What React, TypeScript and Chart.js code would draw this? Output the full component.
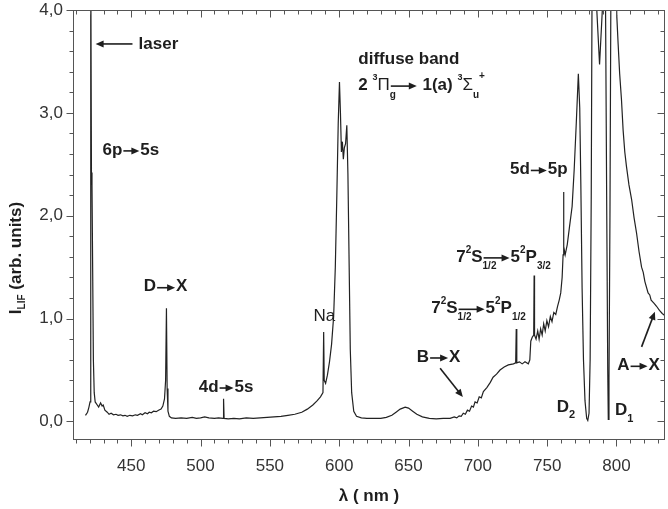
import React, { useEffect, useRef } from "react";
import { Chart, registerables } from "chart.js";

Chart.register(...registerables);

// ---------- data ----------
const wavelengths = [
  417.0, 418.5, 419.5, 420.3, 420.8, 421.3, 421.7, 422.2, 422.7, 423.3, 424.0, 425.5, 426.5, 427.9, 429.0, 429.8,
  431.0, 432.7, 434.0, 435.5, 437.2, 439.0, 440.5, 442.3, 444.0, 445.5, 447.1, 449.0, 451.0, 453.0, 454.5, 456.7,
  458.0, 460.0, 461.7, 463.0, 464.5, 466.1, 468.0, 469.7, 471.5, 472.8, 474.0, 474.8, 475.4, 475.9, 476.5, 477.5,
  479.0, 482.0, 486.0, 490.0, 494.0, 497.0, 500.0, 503.0, 506.0, 510.0, 513.0, 516.2, 516.6, 517.0, 520.0, 524.0,
  528.0, 533.0, 538.0, 543.0, 548.0, 553.0, 558.0, 563.0, 568.0, 573.0, 577.0, 581.0, 584.0, 586.5, 588.3, 588.8,
  589.2, 590.2, 591.5, 593.0, 594.5, 596.0, 597.2, 598.3, 599.3, 600.2, 600.9, 601.6, 602.3, 603.0, 603.7, 604.6,
  605.5, 606.3, 607.2, 608.0, 609.0, 610.5, 612.5, 616.0, 620.0, 625.0, 630.0, 634.0, 638.0, 641.0, 644.0, 647.6,
  650.0, 653.0, 656.0, 660.0, 665.0, 670.0, 675.0, 680.0, 683.0, 684.8, 686.5, 688.0, 689.5, 691.0, 692.5, 694.0,
  695.5, 696.8, 698.0, 699.5, 701.0, 702.5, 704.0, 706.5, 709.0, 711.0, 713.5, 716.0, 719.0, 722.0, 725.7, 727.3,
  727.7, 728.1, 730.0, 732.0, 734.0, 736.4, 737.5, 738.2, 739.3, 740.3, 740.6, 740.9, 742.0, 743.2, 744.2, 745.3,
  746.4, 747.5, 748.6, 749.8, 751.0, 752.3, 753.5, 754.8, 756.2, 757.5, 758.7, 759.8, 760.8, 761.5, 761.8, 762.1,
  763.0, 764.5, 766.0, 768.0, 769.5, 771.0, 772.5, 773.5, 774.3, 775.2, 776.2, 777.3, 778.5, 779.3, 780.2, 781.0,
  781.8, 782.5, 784.5, 785.8, 787.8, 789.8, 790.8, 792.0, 793.0, 793.7, 794.1, 794.6, 795.3, 796.0, 797.0, 799.4,
  800.2, 801.2, 802.3, 803.6, 804.8, 806.0, 807.2, 809.0, 810.9, 812.7, 814.5, 816.3, 818.1, 819.3, 820.5, 822.8,
  824.0, 825.0, 827.0, 828.9, 831.0, 833.0, 834.8,
];
const intensities = [
  0.06, 0.09, 0.14, 0.19, 4.6, 2.42, 2.3, 1.45, 0.6, 0.28, 0.19, 0.16, 0.14, 0.18, 0.15, 0.16,
  0.11, 0.09, 0.07, 0.08, 0.065, 0.07, 0.06, 0.065, 0.055, 0.06, 0.05, 0.06, 0.055, 0.065, 0.06, 0.075,
  0.065, 0.085, 0.075, 0.09, 0.085, 0.1, 0.095, 0.11, 0.12, 0.15, 0.22, 0.4, 1.1, 0.32, 0.1, 0.05,
  0.035, 0.03, 0.035, 0.03, 0.04, 0.03, 0.035, 0.045, 0.035, 0.03, 0.035, 0.03, 0.22, 0.03, 0.025, 0.03,
  0.025, 0.035, 0.03, 0.035, 0.04, 0.045, 0.05, 0.06, 0.07, 0.09, 0.12, 0.16, 0.2, 0.24, 0.28, 0.87,
  0.4, 0.37, 0.45, 0.58, 0.75, 1.02, 1.5, 2.2, 2.9, 3.3, 3.0, 2.62, 2.72, 2.55, 2.66, 2.7,
  2.88, 2.4, 1.5, 0.7, 0.28, 0.1, 0.05, 0.035, 0.03, 0.03, 0.03, 0.04, 0.06, 0.09, 0.12, 0.14,
  0.13, 0.1, 0.07, 0.045, 0.03, 0.025, 0.03, 0.03, 0.045, 0.035, 0.055, 0.05, 0.08, 0.07, 0.11, 0.1,
  0.15, 0.14, 0.19, 0.18, 0.24, 0.23, 0.29, 0.33, 0.38, 0.43, 0.46, 0.5, 0.53, 0.55, 0.56, 0.57,
  0.9, 0.57, 0.58, 0.56, 0.58, 0.56, 0.6, 0.78, 0.82, 0.84, 1.42, 0.84, 0.8, 0.88, 0.8, 0.9,
  0.84, 0.95, 0.88, 0.98, 0.92, 1.02, 0.97, 1.06, 1.04, 1.12, 1.18, 1.25, 1.4, 1.62, 2.23, 1.7,
  1.62, 1.72, 1.88, 2.09, 2.45, 2.9, 3.38, 3.05, 2.3, 1.3, 0.6, 0.2, 0.03, 0.01, 0.08, 0.6,
  2.2, 4.6, 4.6, 4.0, 3.47, 4.0, 4.6, 4.3, 2.0, 0.5, 0.02, 0.4, 2.0, 4.3, 4.6, 4.6,
  3.95, 3.67, 3.38, 3.13, 2.83, 2.62, 2.48, 2.3, 2.16, 1.98, 1.83, 1.65, 1.5, 1.45, 1.36, 1.25,
  1.23, 1.18, 1.15, 1.12, 1.08, 1.05, 1.03,
];

const xTickValues = [450, 500, 550, 600, 650, 700, 750, 800];
const yTickValues = [0, 1, 2, 3, 4];
const yTickLabels = ["0,0", "1,0", "2,0", "3,0", "4,0"];
const xTitle = "λ ( nm )";

// annotation texts, anchored in data coordinates (left edge, vertical middle)
type Seg = { t?: string; arrow?: number; size?: number; bold?: boolean; dy?: number; adv?: boolean };
const SUP = (t: string): Seg => ({ t, size: 10, dy: -7 });
const SUB = (t: string, adv = true): Seg => ({ t, size: 10, dy: 9, adv });
const labels: { x: number; y: number; segs: Seg[] }[] = [
  { x: 455.3, y: 3.67, segs: [{ t: "laser" }] },
  { x: 429.3, y: 2.64, segs: [{ t: "6p" }, { arrow: 18 }, { t: "5s" }] },
  { x: 459.1, y: 1.31, segs: [{ t: "D" }, { arrow: 20 }, { t: "X" }] },
  { x: 498.7, y: 0.335, segs: [{ t: "4d" }, { arrow: 16 }, { t: "5s" }] },
  { x: 581.5, y: 1.02, segs: [{ t: "Na", bold: false }] },
  { x: 613.8, y: 3.52, segs: [{ t: "diffuse band" }] },
  {
    x: 613.8,
    y: 3.27,
    segs: [
      { t: "2 " }, { t: "3", size: 9, dy: -8 }, { t: "Π", bold: false }, { t: "g", size: 10, dy: 10, adv: false },
      { arrow: 28 }, { t: " 1(a) " }, { t: "3", size: 9, dy: -8 }, { t: "Σ", bold: false },
      { t: "u", size: 10, dy: 10 }, { t: "+", size: 10, dy: -9 },
    ],
  },
  { x: 723.2, y: 2.45, segs: [{ t: "5d" }, { arrow: 18 }, { t: "5p" }] },
  {
    x: 684.4,
    y: 1.6,
    segs: [{ t: "7" }, SUP("2"), { t: "S" }, SUB("1/2", false), { arrow: 28 }, { t: "5" }, SUP("2"), { t: "P" }, SUB("3/2")],
  },
  {
    x: 666.4,
    y: 1.1,
    segs: [{ t: "7" }, SUP("2"), { t: "S" }, SUB("1/2", false), { arrow: 28 }, { t: "5" }, SUP("2"), { t: "P" }, SUB("1/2")],
  },
  { x: 656.0, y: 0.627, segs: [{ t: "B" }, { arrow: 20 }, { t: "X" }] },
  { x: 756.9, y: 0.14, segs: [{ t: "D" }, { t: "2", size: 11, dy: 8 }] },
  { x: 798.9, y: 0.107, segs: [{ t: "D" }, { t: "1", size: 11, dy: 8 }] },
  { x: 800.6, y: 0.546, segs: [{ t: "A" }, { arrow: 19 }, { t: "X" }] },
];
// free arrows: [x0, y0, x1, y1] in data coordinates, head at the end
const freeArrows: [number, number, number, number][] = [
  [450.9, 3.67, 424.3, 3.67],
  [672.8, 0.517, 689.2, 0.237],
  [818.1, 0.725, 827.7, 1.066],
];

const FONT = '"Liberation Sans", Arial, Helvetica, sans-serif';
const INK = "#1e1e1e";

function arrowLine(ctx: CanvasRenderingContext2D, x0: number, y0: number, x1: number, y1: number) {
  const head = 8;
  const half = 3.5;
  const dx = x1 - x0, dy = y1 - y0;
  const L = Math.hypot(dx, dy);
  const ux = dx / L, uy = dy / L;
  const bx = x1 - ux * head, by = y1 - uy * head;
  ctx.beginPath();
  ctx.moveTo(x0, y0);
  ctx.lineTo(bx + ux * 1, by + uy * 1);
  ctx.lineWidth = 1.6;
  ctx.strokeStyle = INK;
  ctx.stroke();
  ctx.beginPath();
  ctx.moveTo(x1, y1);
  ctx.lineTo(bx - uy * half, by + ux * half);
  ctx.lineTo(bx + uy * half, by - ux * half);
  ctx.closePath();
  ctx.fillStyle = INK;
  ctx.fill();
}

function drawRich(ctx: CanvasRenderingContext2D, segs: Seg[], x: number, y: number) {
  let cx = x;
  ctx.textBaseline = "middle";
  ctx.textAlign = "left";
  ctx.fillStyle = INK;
  for (const s of segs) {
    if (s.arrow) {
      arrowLine(ctx, cx + 1, y + 1, cx + s.arrow - 1, y + 1);
      cx += s.arrow;
      continue;
    }
    const size = s.size ?? 17;
    ctx.font = `${s.bold === false ? "" : "bold "}${size}px ${FONT}`;
    ctx.fillText(s.t || "", cx, y + (s.dy ?? 0));
    if (s.adv !== false) cx += ctx.measureText(s.t || "").width;
  }
}

const decorPlugin = {
  id: "decor",
  afterDraw(chart: any) {
    const ctx: CanvasRenderingContext2D = chart.ctx;
    const xs = chart.scales.x;
    const ys = chart.scales.y;
    const ca = chart.chartArea;
    ctx.save();
    // frame
    ctx.strokeStyle = "#555";
    ctx.lineWidth = 1;
    const L = Math.round(ca.left) + 0.5, R = Math.round(ca.right) - 0.5;
    const T = Math.round(ca.top) + 0.5, B = Math.round(ca.bottom) - 0.5;
    ctx.strokeRect(L, T, R - L, B - T);
    // x ticks every 10 nm (bottom outward, top inward)
    ctx.beginPath();
    for (let v = 410; v <= xs.max; v += 10) {
      const px = Math.round(xs.getPixelForValue(v)) + 0.5;
      const len = v % 50 === 0 ? 7 : 4;
      ctx.moveTo(px, B);
      ctx.lineTo(px, B + len);
      ctx.moveTo(px, T);
      ctx.lineTo(px, T + len);
    }
    // y ticks every 0.2 (left outward, right inward)
    for (let i = 0; i <= 20; i++) {
      const py = Math.round(ys.getPixelForValue(i * 0.2)) + 0.5;
      const len = i % 5 === 0 ? 7 : 4;
      ctx.moveTo(L, py);
      ctx.lineTo(L - len, py);
      ctx.moveTo(R, py);
      ctx.lineTo(R - len, py);
    }
    ctx.stroke();

    // axis titles
    ctx.fillStyle = INK;
    ctx.font = `bold 17px ${FONT}`;
    ctx.textAlign = "center";
    ctx.textBaseline = "middle";
    ctx.fillText(xTitle, (ca.left + ca.right) / 2, 496);

    ctx.save();
    ctx.translate(16, 258);
    ctx.rotate(-Math.PI / 2);
    const parts: Seg[] = [{ t: "I" }, { t: "LIF", size: 10, dy: 6 }, { t: " (arb. units)" }];
    let w = 0;
    for (const p of parts) {
      ctx.font = `bold ${p.size ?? 17}px ${FONT}`;
      w += ctx.measureText(p.t || "").width;
    }
    drawRich(ctx, parts, -w / 2, 0);
    ctx.restore();

    // annotations
    for (const a of labels) {
      drawRich(ctx, a.segs, xs.getPixelForValue(a.x), ys.getPixelForValue(a.y));
    }
    for (const [x0, y0, x1, y1] of freeArrows) {
      arrowLine(ctx, xs.getPixelForValue(x0), ys.getPixelForValue(y0), xs.getPixelForValue(x1), ys.getPixelForValue(y1));
    }
    ctx.restore();
  },
};

export default function App() {
  const ref = useRef<HTMLCanvasElement | null>(null);
  useEffect(() => {
    if (!ref.current) return;
    const chart = new Chart(ref.current, {
      type: "line",
      data: {
        datasets: [
          {
            data: wavelengths.map((x, i) => ({ x, y: intensities[i] })),
            borderColor: "#222",
            borderWidth: 1.2,
            pointRadius: 0,
            tension: 0,
            fill: false,
          },
        ],
      },
      options: {
        animation: false,
        responsive: false,
        devicePixelRatio: 1,
        layout: { padding: { top: 10, right: 3, left: 0, bottom: 0 } },
        plugins: { legend: { display: false }, tooltip: { enabled: false } },
        scales: {
          x: {
            type: "linear",
            min: 408,
            max: 835,
            grid: { display: false, drawTicks: false },
            border: { display: false },
            ticks: { font: { size: 17, family: FONT }, color: "#333", padding: 16, maxRotation: 0 },
            afterBuildTicks: (s: any) => {
              s.ticks = xTickValues.map((value) => ({ value }));
            },
            afterFit: (s: any) => {
              s.height = 69;
              s.paddingLeft = 0;
              s.paddingRight = 0;
            },
          },
          y: {
            type: "linear",
            min: -0.18,
            max: 4.0,
            grid: { display: false, drawTicks: false },
            border: { display: false },
            ticks: {
              font: { size: 17, family: FONT },
              color: "#333",
              padding: 10,
              callback: (v: any) => {
                const i = yTickValues.indexOf(Number(v));
                return i >= 0 ? yTickLabels[i] : "";
              },
            },
            afterBuildTicks: (s: any) => {
              s.ticks = yTickValues.map((value) => ({ value }));
            },
            afterFit: (s: any) => {
              s.width = 73;
              s.paddingTop = 0;
              s.paddingBottom = 0;
            },
          },
        },
      },
      plugins: [decorPlugin],
    });
    return () => chart.destroy();
  }, []);
  return (
    <div style={{ position: "fixed", left: 0, top: 0, width: 668, height: 509, background: "#fff" }}>
      <canvas ref={ref} width={668} height={509} style={{ display: "block", width: 668, height: 509 }} />
    </div>
  );
}
